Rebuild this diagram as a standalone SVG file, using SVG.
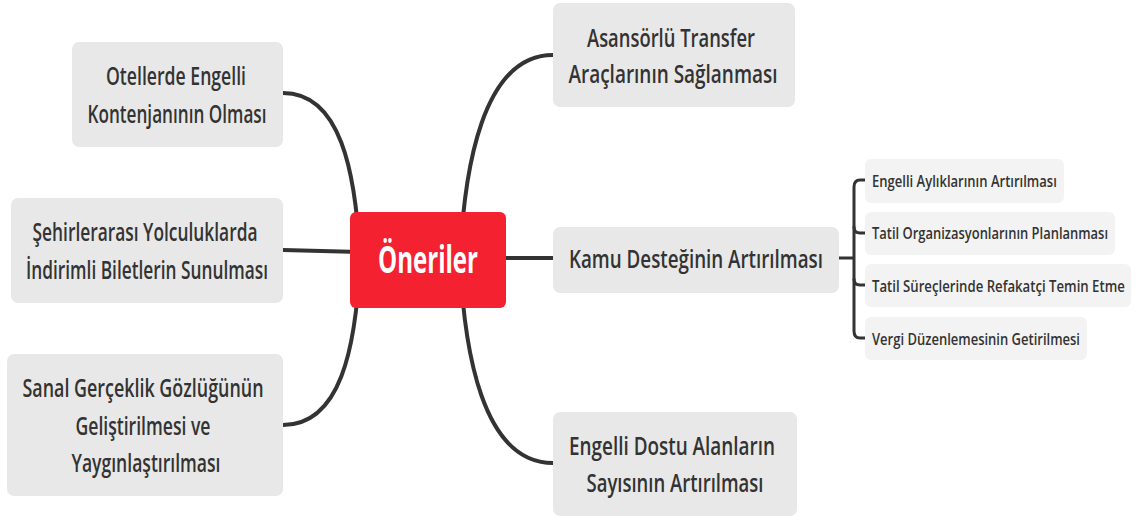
<svg xmlns="http://www.w3.org/2000/svg" width="1136" height="525" viewBox="0 0 1136 525">
<style>
.bg{fill:#ffffff}
.node{fill:#e8e8e8}
.sub{fill:#f3f3f3}
.t{font-family:"Open Sans","Liberation Sans",sans-serif;font-weight:600;fill:#333333;text-anchor:middle;font-size:26px}
.st{font-family:"Open Sans","Liberation Sans",sans-serif;font-weight:600;fill:#333333;font-size:16px}
.ct{font-family:"Open Sans","Liberation Sans",sans-serif;font-weight:700;fill:#ffffff;text-anchor:middle;font-size:38px}
.c{fill:none;stroke:#333333;stroke-width:4;stroke-linecap:round}
.cs{fill:none;stroke:#333333;stroke-width:3;stroke-linecap:round}
</style>
<rect class="bg" x="0" y="0" width="1136" height="525"/>
<g id="connectors">
<path class="c" d="M283,93 C340,93 356,170 360,260"/>
<path class="c" d="M283,425 C340,425 356,350 360,260"/>
<path class="c" stroke-width="5" d="M283,250 L360,252"/>
<path class="c" d="M553,55 C482,55 464,170 460,260"/>
<path class="c" d="M553,463 C482,463 464,350 460,260"/>
<path class="c" stroke-width="5" d="M500,258 L553,258"/>
<path class="cs" d="M839,258 H853"/>
<path class="cs" d="M866,180 H860 Q854,180 854,187 V331 Q854,338 860,338 H866"/>
<path class="cs" d="M854,227 Q854,233 860,233 H866"/>
<path class="cs" d="M854,279 Q854,285 860,285 H866"/>
</g>
<g id="center">
<rect x="350" y="212" width="156" height="96" rx="6" fill="#f42130"/>
<text class="ct" x="428" y="273" textLength="100" lengthAdjust="spacingAndGlyphs">Öneriler</text>
</g>
<g id="n-otellerde">
<rect class="node" x="72" y="42" width="211" height="105" rx="7"/>
<text class="t" x="176" y="85" textLength="140" lengthAdjust="spacingAndGlyphs">Otellerde Engelli</text>
<text class="t" x="177" y="123" textLength="179" lengthAdjust="spacingAndGlyphs">Kontenjanının Olması</text>
</g>
<g id="n-sehirlerarasi">
<rect class="node" x="11" y="198" width="272" height="105" rx="7"/>
<text class="t" x="145" y="241" textLength="225" lengthAdjust="spacingAndGlyphs">Şehirlerarası Yolculuklarda</text>
<text class="t" x="147" y="279" textLength="242" lengthAdjust="spacingAndGlyphs">İndirimli Biletlerin Sunulması</text>
</g>
<g id="n-sanal">
<rect class="node" x="7" y="354" width="276" height="142" rx="7"/>
<text class="t" x="143" y="397" textLength="241" lengthAdjust="spacingAndGlyphs">Sanal Gerçeklik Gözlüğünün</text>
<text class="t" x="143" y="435" textLength="135" lengthAdjust="spacingAndGlyphs">Geliştirilmesi ve</text>
<text class="t" x="146" y="472" textLength="149" lengthAdjust="spacingAndGlyphs">Yaygınlaştırılması</text>
</g>
<g id="n-asansorlu">
<rect class="node" x="553" y="3" width="242" height="104" rx="7"/>
<text class="t" x="671" y="47" textLength="168" lengthAdjust="spacingAndGlyphs">Asansörlü Transfer</text>
<text class="t" x="673" y="83" textLength="209" lengthAdjust="spacingAndGlyphs">Araçlarının Sağlanması</text>
</g>
<g id="n-kamu">
<rect class="node" x="553" y="227" width="286" height="66" rx="7"/>
<text class="t" x="696" y="268" textLength="254" lengthAdjust="spacingAndGlyphs">Kamu Desteğinin Artırılması</text>
</g>
<g id="n-engelli-dostu">
<rect class="node" x="553" y="412" width="244" height="104" rx="7"/>
<text class="t" x="672" y="455" textLength="206" lengthAdjust="spacingAndGlyphs">Engelli Dostu Alanların</text>
<text class="t" x="675" y="492" textLength="177" lengthAdjust="spacingAndGlyphs">Sayısının Artırılması</text>
</g>
<g id="s-ayliklar">
<rect class="sub" x="865" y="159" width="199" height="44" rx="6"/>
<text class="st" transform="translate(872,187) scale(0.8,1)" x="0" y="0" textLength="231" lengthAdjust="spacingAndGlyphs">Engelli Aylıklarının Artırılması</text>
</g>
<g id="s-tatil-org">
<rect class="sub" x="865" y="212" width="250" height="43" rx="6"/>
<text class="st" transform="translate(872,239) scale(0.8,1)" x="0" y="0" textLength="295" lengthAdjust="spacingAndGlyphs">Tatil Organizasyonlarının Planlanması</text>
</g>
<g id="s-refakatci">
<rect class="sub" x="865" y="264" width="266" height="43" rx="6"/>
<text class="st" transform="translate(872,292) scale(0.8,1)" x="0" y="0" textLength="316" lengthAdjust="spacingAndGlyphs">Tatil Süreçlerinde Refakatçi Temin Etme</text>
</g>
<g id="s-vergi">
<rect class="sub" x="865" y="317" width="222" height="43" rx="6"/>
<text class="st" transform="translate(872,345) scale(0.8,1)" x="0" y="0" textLength="260" lengthAdjust="spacingAndGlyphs">Vergi Düzenlemesinin Getirilmesi</text>
</g>
</svg>
